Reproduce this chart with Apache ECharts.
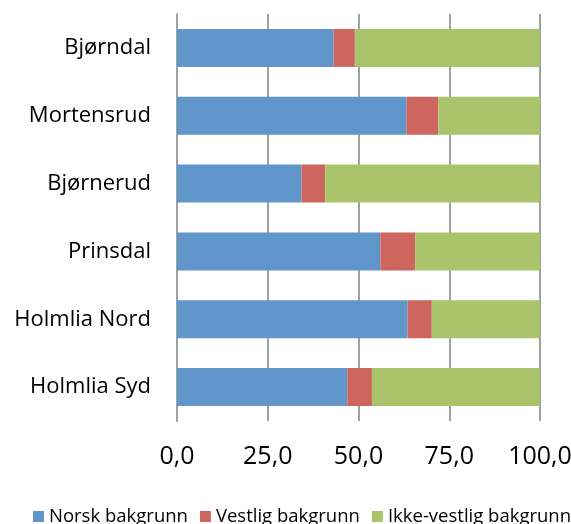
<!DOCTYPE html>
<html>
<head>
<meta charset="utf-8">
<script src="https://cdn.jsdelivr.net/npm/echarts@6/dist/echarts.min.js"></script>
<style>
	html, body { margin: 0; padding: 0; background: #fff; }
	#chart-container { width: 571px; height: 524px; }
</style>
</head>
<body>
<div id="chart-container"></div>
<script>

var categories = ["Bjørndal", "Mortensrud", "Bjørnerud", "Prinsdal", "Holmlia Nord", "Holmlia Syd"];
var seriesNames = ["Norsk bakgrunn", "Vestlig bakgrunn", "Ikke-vestlig bakgrunn"];
var norsk = [43.1, 63.2, 34.3, 56.0, 63.5, 46.9];
var vestlig = [5.9, 8.8, 6.5, 9.6, 6.7, 6.8];
var ikkeVestlig = [51.0, 28.0, 59.2, 34.4, 29.8, 46.3];
var xTicks = [0, 25, 50, 75, 100];

var colors = ["#6096c9", "#cd665e", "#aac46c"];
var fontName = "Open Sans";

function makeSeries(name, values) {
	return {
		name : name,
		type : "bar",
		stack : "total",
		barCategoryGap : "44%",
		data : values
	};
}

var myChart = echarts.init(document.getElementById('chart-container'));

var option = {
	color : colors,
	animation : false,
	grid : {
		left : 177,
		right : 31,
		top : 14,
		bottom : 103,
		outerBoundsMode : "none"
	},
	legend : {
		data : seriesNames,
		left : 33,
		top : 507,
		width : 620,
		padding : 0,
		icon : "rect",
		itemWidth : 11,
		itemHeight : 11,
		itemGap : 12,
		textStyle : {
			fontFamily : fontName,
			fontSize : 18.5,
			color : "#000"
		}
	},
	xAxis : {
		type : "value",
		min : xTicks[0],
		max : xTicks[xTicks.length - 1],
		interval : 25,
		axisLine : { show : false },
		axisTick : { show : false },
		splitLine : {
			show : true,
			lineStyle : { color : "#a0a0a0", width : 2 }
		},
		axisLabel : {
			margin : 23,
			fontFamily : fontName,
			fontSize : 25,
			color : "#000",
			formatter : function(v) {
				return v.toFixed(1).replace(".", ",");
			}
		}
	},
	yAxis : {
		type : "category",
		inverse : true,
		data : categories,
		axisLine : {
			show : true,
			lineStyle : { color : "#a0a0a0", width : 2 }
		},
		axisTick : { show : false },
		axisLabel : {
			margin : 26,
			fontFamily : fontName,
			fontSize : 22,
			color : "#000"
		}
	},
	series : [
		makeSeries(seriesNames[0], norsk),
		makeSeries(seriesNames[1], vestlig),
		makeSeries(seriesNames[2], ikkeVestlig)
	]
};

myChart.setOption(option);

</script>
</body>
</html>
